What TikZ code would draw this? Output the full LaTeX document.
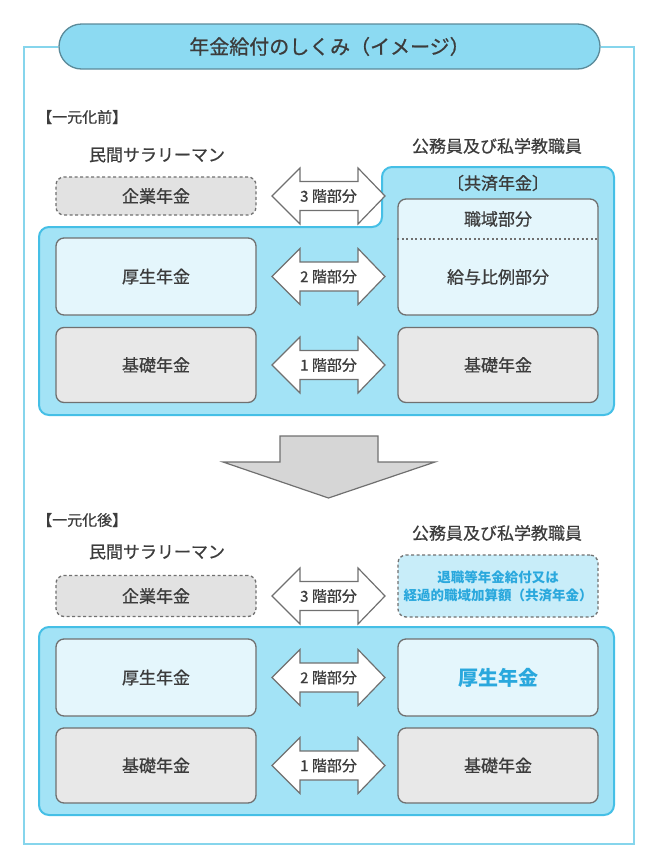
\documentclass[tikz,border=0pt]{standalone}
\usepackage{fontspec}
\setmainfont{Noto Sans CJK JP}
\newfontfamily\medf{Noto Sans CJK JP}[FakeBold=0.7]
\definecolor{txt}{HTML}{3C3C3C}
\definecolor{framec}{HTML}{86D5EC}
\definecolor{titlefill}{HTML}{8CDAF2}
\definecolor{titledraw}{HTML}{5B8A99}
\definecolor{contfill}{HTML}{A3E3F6}
\definecolor{contdraw}{HTML}{45BFE6}
\definecolor{lightfill}{HTML}{E4F6FC}
\definecolor{grayfill}{HTML}{E8E8E8}
\definecolor{dashfill}{HTML}{E2E2E2}
\definecolor{bluefill}{HTML}{C8EDF9}
\definecolor{bgray}{HTML}{707070}
\definecolor{bluetxt}{HTML}{2AA8DD}
\definecolor{downfill}{HTML}{D6D6D6}
\tikzset{
  every node/.style={text=txt, inner sep=0pt},
  boxbase/.style={draw=bgray, line width=1.3pt, rounded corners=8pt, minimum width=200pt},
  lbox/.style={boxbase, fill=lightfill},
  gbox/.style={boxbase, fill=grayfill},
  dbox/.style={boxbase, fill=dashfill, dash pattern=on 3pt off 2.5pt},
  bbox/.style={boxbase, fill=bluefill, dash pattern=on 3pt off 2.5pt},
  lbl/.style={font=\medf\fontsize{17}{20}\selectfont},
  hdr/.style={font=\medf\fontsize{15}{17}\selectfont, anchor=west},
  albl/.style={font=\medf\fontsize{15}{17}\selectfont},
  darr/.style={draw=bgray, fill=white, line width=1.2pt, line join=miter},
  cont/.style={draw=contdraw, fill=contfill, line width=2pt, rounded corners=10pt},
  framel/.style={draw=framec, line width=2pt},
}
\newcommand\dblarr[3]{%
  \draw[darr, shift={(0,#2)}] (272,0) -- (300,-28) -- (300,-14.5) -- (358,-14.5) -- (358,-28) -- (385,0) -- (358,28) -- (358,14.5) -- (300,14.5) -- (300,28) -- cycle;
  \node[albl] (#1) at (328.5,#2) {#3};
}
\begin{document}
\begin{tikzpicture}[x=1pt,y=-1pt]
\useasboundingbox (0,0) rectangle (657,865);
% title and frame
\node[draw=titledraw, fill=titlefill, line width=1.3pt, rounded corners=22.5pt,
      minimum width=541pt, minimum height=45pt, font=\medf\fontsize{20}{24}\selectfont] (title) at (329.5,46.5) {年金給付のしくみ（イメージ）};
\draw[framel] (title.west) -- (24,46.5) -- (24,844) -- (634,844) -- (634,46.5) -- (title.east);

% ===== before =====
\node[hdr] (hdrA) at (37,117) {【一元化前】};
\node[lbl] (minA) at (157,155) {民間サラリーマン};
\node[lbl] (komA) at (497,146) {公務員及び私学教職員};

\draw[cont] (39,415) -- (39,227) -- (382,227) -- (382,167) -- (614,167) -- (614,415) -- cycle;
\node[lbl] (kyosaiA) at (498,183) {〔共済年金〕};

\node[dbox, minimum height=38pt, lbl] (kigyoA) at (156,196) {企業年金};
\node[lbox, minimum height=77pt, lbl] (kouseiA) at (156,276.5) {厚生年金};
\node[gbox, minimum height=75pt, lbl] (kisoA) at (156,365) {基礎年金};

\node[lbox, minimum height=116pt] (kyoboxA) at (498,257) {};
\draw[bgray, line width=1.3pt, dash pattern=on 2pt off 2.5pt] (kyoboxA.west |- 0,239) -- (kyoboxA.east |- 0,239);
\node[lbl] (shokuA) at (498,219) {職域部分};
\node[lbl] (kyuyoA) at (498,277) {給与比例部分};
\node[gbox, minimum height=75pt, lbl] (kisoRA) at (498,365) {基礎年金};

\dblarr{a3A}{196}{3 階部分}
\dblarr{a2A}{276.5}{2 階部分}
\dblarr{a1A}{365}{1 階部分}

% ===== down arrow =====
\draw[draw=bgray, fill=downfill, line width=1.2pt] (280,436) -- (378,436) -- (378,462) -- (435,462) -- (328.5,498) -- (223,462) -- (280,462) -- cycle;

% ===== after =====
\node[hdr] (hdrB) at (37,520) {【一元化後】};
\node[lbl] (minB) at (157,552) {民間サラリーマン};
\node[lbl] (komB) at (497,533) {公務員及び私学教職員};

\node[dbox, minimum height=41pt, lbl] (kigyoB) at (156,596) {企業年金};
\node[bbox, minimum height=62pt, align=center, text=bluetxt,
      font=\fontsize{13.5}{18}\selectfont\bfseries] (taiB) at (498,586) {退職等年金給付又は\\経過的職域加算額（共済年金）};

\draw[cont] (39,815) rectangle (614,627);
\node[lbox, minimum height=77pt, lbl] (kouseiB) at (156,677.5) {厚生年金};
\node[gbox, minimum height=75pt, lbl] (kisoB) at (156,765.5) {基礎年金};
\node[lbox, minimum height=77pt, text=bluetxt, font=\fontsize{20}{24}\selectfont\bfseries] (kouseiRB) at (498,677.5) {厚生年金};
\node[gbox, minimum height=75pt, lbl] (kisoRB) at (498,765.5) {基礎年金};

\dblarr{a3B}{596}{3 階部分}
\dblarr{a2B}{677.5}{2 階部分}
\dblarr{a1B}{765.5}{1 階部分}
\end{tikzpicture}
\end{document}
